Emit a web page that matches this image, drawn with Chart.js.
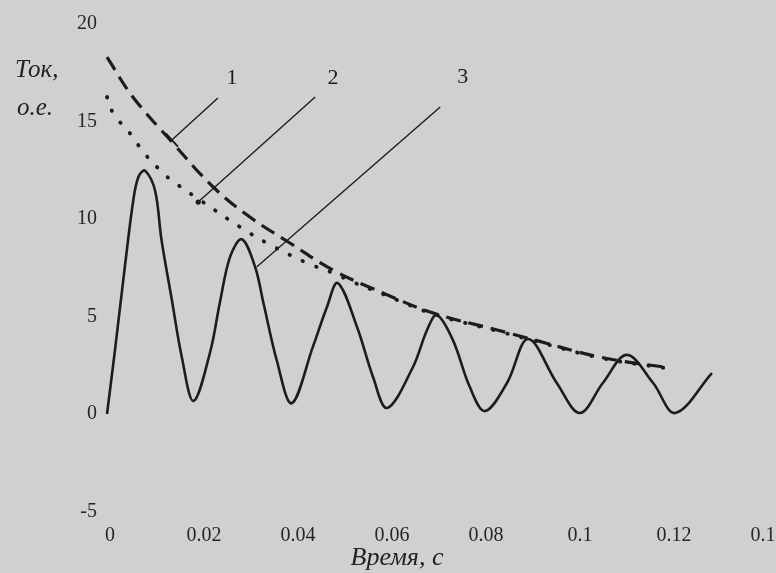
<!DOCTYPE html>
<html><head><meta charset="utf-8">
<script src="https://cdn.jsdelivr.net/npm/chart.js@4.4.1/dist/chart.umd.min.js"></script>
<style>
html,body{margin:0;padding:0;background:#d0d0d0;overflow:hidden;width:776px;height:573px;}
canvas{display:block;}
</style></head><body>
<canvas id="c" width="840" height="573"></canvas>
<script>
// ---- data (time in s, current in p.u.) ----
const solidTime = [0, 0.0017, 0.0038, 0.0056, 0.0067, 0.0081, 0.0102, 0.0116, 0.0138, 0.0159, 0.0184,
  0.0219, 0.0240, 0.0262, 0.0287, 0.0315, 0.0333, 0.0361, 0.0393,
  0.0438, 0.0468, 0.0491, 0.0532, 0.0566, 0.0596,
  0.0651, 0.0681, 0.0702, 0.0736, 0.0772, 0.0804,
  0.0851, 0.0896, 0.0957, 0.1006,
  0.1055, 0.1106, 0.1162, 0.1209, 0.1287];
const solidCurrent = [0, 3.28, 7.55, 10.97, 12.17, 12.48, 11.49, 8.92, 5.85, 2.94, 0.67,
  3.13, 5.69, 8.07, 8.96, 7.55, 5.68, 2.77, 0.55,
  3.44, 5.49, 6.72, 4.46, 1.90, 0.31,
  2.41, 4.31, 5.08, 3.79, 1.38, 0.15,
  1.59, 3.85, 1.59, 0.05,
  1.59, 3.03, 1.59, 0.05, 2.1];

const dashedTime = [0, 0.0055, 0.0140, 0.0226, 0.0304, 0.0389, 0.0481, 0.0587, 0.0694, 0.0830, 0.0894, 0.1049, 0.1198];
const dashedCurrent = [18.3, 16.26, 13.90, 11.64, 10.10, 8.77, 7.38, 6.21, 5.18, 4.31, 3.90, 2.92, 2.36];

const dottedTime = [0, 0.0013, 0.0055, 0.0077, 0.0119, 0.0145, 0.0198, 0.0283, 0.0340, 0.0426, 0.0481, 0.0523, 0.0587, 0.0694, 0.0830, 0.0894, 0.1049, 0.1198];
const dottedCurrent = [16.26, 15.44, 14.21, 13.44, 12.36, 11.85, 10.97, 9.59, 8.77, 7.74, 7.23, 6.77, 6.15, 5.13, 4.26, 3.85, 2.88, 2.32];

const xTicks = [0, 0.02, 0.04, 0.06, 0.08, 0.1, 0.12, 0.14];
const xTickLabels = ['0', '0.02', '0.04', '0.06', '0.08', '0.1', '0.12', '0.14'];
const yTicks = [20, 15, 10, 5, 0, -5];
const yTickLabels = ['20', '15', '10', '5', '0', '-5'];

// leader lines for curve numbers
const curveNames = ['1', '2', '3'];
const nameT = [0.0266, 0.0481, 0.0757];
const nameI = [17.23, 17.23, 17.28];
const leaderTopT = [0.0236, 0.0443, 0.0709];
const leaderTopI = [16.21, 16.26, 15.74];
const leaderEndT = [0.0138, 0.0194, 0.0319];
const leaderEndI = [14.05, 10.87, 7.55];
const leaderMark = ['bar', 'dot', 'none'];

const yTitle = ['Ток,', 'о.е.'];
const xTitle = 'Время, с';

// ---- chart ----
const FONT = "'Liberation Serif','Times New Roman',serif";
const INK = '#1c1c1c';
const pts = (ts, vs) => ts.map((t, i) => ({x: t, y: vs[i]}));

const annot = {
  id: 'annot',
  afterDatasetsDraw(chart) {
    const {ctx, scales: {x, y}} = chart;
    ctx.save();
    ctx.strokeStyle = INK; ctx.fillStyle = INK; ctx.lineWidth = 1.4;
    for (let i = 0; i < curveNames.length; i++) {
      const x1 = x.getPixelForValue(leaderTopT[i]), y1 = y.getPixelForValue(leaderTopI[i]);
      const x2 = x.getPixelForValue(leaderEndT[i]), y2 = y.getPixelForValue(leaderEndI[i]);
      ctx.beginPath(); ctx.moveTo(x1, y1); ctx.lineTo(x2, y2); ctx.stroke();
      if (leaderMark[i] === 'bar') {
        const dx = x2 - x1, dy = y2 - y1, L = Math.hypot(dx, dy);
        const px = -dy / L * 9, py = dx / L * 9;
        ctx.lineWidth = 2;
        ctx.beginPath(); ctx.moveTo(x2 - px, y2 - py); ctx.lineTo(x2 + px, y2 + py); ctx.stroke();
        ctx.lineWidth = 1.4;
      } else if (leaderMark[i] === 'dot') {
        ctx.beginPath(); ctx.arc(x2, y2, 2.6, 0, Math.PI * 2); ctx.fill();
      }
      ctx.font = '22px ' + FONT;
      ctx.textAlign = 'center'; ctx.textBaseline = 'middle';
      ctx.fillText(curveNames[i], x.getPixelForValue(nameT[i]), y.getPixelForValue(nameI[i]));
    }
    // axis titles
    ctx.fillStyle = '#222';
    ctx.font = 'italic 25px ' + FONT;
    ctx.textAlign = 'left'; ctx.textBaseline = 'middle';
    ctx.fillText(yTitle[0], 15, 70);
    ctx.fillText(yTitle[1], 17, 108);
    ctx.font = 'italic 26px ' + FONT;
    ctx.textAlign = 'center';
    ctx.fillText(xTitle, 397, 558);
    ctx.restore();
  }
};

new Chart(document.getElementById('c'), {
  type: 'line',
  data: {
    datasets: [
      {label: '3', data: pts(solidTime, solidCurrent), borderColor: INK, borderWidth: 2.6,
       pointRadius: 0, tension: 0.35, fill: false},
      {label: '1', data: pts(dashedTime, dashedCurrent), borderColor: INK, borderWidth: 3.2,
       borderDash: [15, 8], pointRadius: 0, tension: 0.4, fill: false},
      {label: '2', data: pts(dottedTime, dottedCurrent), borderColor: INK, borderWidth: 3.8,
       borderDash: [0.5, 14], borderCapStyle: 'round', pointRadius: 0, tension: 0.4, fill: false}
    ]
  },
  options: {
    responsive: false, animation: false, devicePixelRatio: 1,
    layout: {padding: {top: 24, right: 28, left: 0, bottom: 0}},
    plugins: {legend: {display: false}, tooltip: {enabled: false}},
    scales: {
      x: {
        type: 'linear', min: -7 / 4700, max: 0.15,
        grid: {display: false, drawTicks: false, tickLength: 0}, border: {display: false},
        afterBuildTicks: s => { s.ticks = xTicks.map(v => ({value: v})); },
        afterFit: s => { s.height = 61.5; },
        ticks: {padding: 12, labelOffset: 3, autoSkip: false, maxRotation: 0, color: '#262626',
                font: {family: FONT, size: 20}, callback: (v, i) => xTickLabels[i]}
      },
      y: {
        type: 'linear', min: -5, max: 20,
        grid: {display: false, drawTicks: false, tickLength: 0}, border: {display: false},
        afterBuildTicks: s => { s.ticks = yTicks.map(v => ({value: v})); },
        afterFit: s => { s.width = 100; },
        ticks: {padding: 3, autoSkip: false, color: '#262626',
                font: {family: FONT, size: 20}, callback: (v, i) => yTickLabels[i]}
      }
    }
  },
  plugins: [annot]
});
</script>
</body></html>
